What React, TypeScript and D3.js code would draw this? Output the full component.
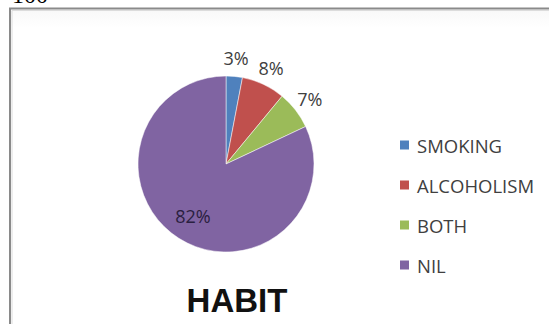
import React from "react";
import * as d3 from "d3";

const categories = ["SMOKING", "ALCOHOLISM", "BOTH", "NIL"];
const values = [3, 8, 7, 82];
const labels = ["3%", "8%", "7%", "82%"];
const colors = ["#4F81BD", "#C0504D", "#9BBB59", "#8064A2"];
const title = "HABIT";
const stray = "100";

export default function App() {
  const W = 549, H = 324;
  const cx = 226, cy = 164, r = 88;
  const pie = d3.pie<number>().sort(null).value((d) => d);
  const arcs = pie(values);
  const arc = d3.arc<d3.PieArcDatum<number>>().innerRadius(0).outerRadius(r);
  const outerLabel = d3.arc<d3.PieArcDatum<number>>().innerRadius(r + 18).outerRadius(r + 18);
  const innerLabel = d3.arc<d3.PieArcDatum<number>>().innerRadius(r * 0.7).outerRadius(r * 0.7);
  const font = "'Open Sans', 'Liberation Sans', sans-serif";
  const legendX = 400, legendY0 = 145, legendStep = 40;
  return (
    <svg width={W} height={H} style={{ position: "absolute", left: 0, top: 0, background: "#fff" }}>
      <defs>
        <linearGradient id="bg" x1="0" y1="0" x2="0" y2="1">
          <stop offset="0" stopColor="#f8f8f8" />
          <stop offset="0.06" stopColor="#ffffff" />
        </linearGradient>
      </defs>
      <text x={12} y={3} fontFamily="'Liberation Serif', serif" fontSize={24} fill="#000">{stray}</text>
      <rect x={10} y={8.5} width={W} height={H} fill="url(#bg)" stroke="#8a8a8a" strokeWidth={2} />
      <line x1={12} y1={10.5} x2={W} y2={10.5} stroke="#dcdcdc" strokeWidth={1} />
      <line x1={12} y1={10.5} x2={12} y2={H} stroke="#dcdcdc" strokeWidth={1} />
      <g transform={`translate(${cx},${cy})`}>
        {arcs.map((a, i) => (
          <path key={i} d={arc(a) || ""} fill={colors[i]} stroke="#fff" strokeWidth={0.5} />
        ))}
        {arcs.map((a, i) => {
          const [x, y] = (i === 3 ? innerLabel : outerLabel).centroid(a);
          return (
            <text key={i} x={x} y={y} textAnchor="middle" dominantBaseline="central"
              fontFamily={font} fontSize={18} fill={i === 3 ? "#2a2040" : "#404040"}>
              {labels[i]}
            </text>
          );
        })}
      </g>
      {categories.map((c, i) => (
        <g key={c} transform={`translate(${legendX},${legendY0 + i * legendStep})`}>
          <rect x={0} y={-4.5} width={9} height={9} fill={colors[i]} />
          <text x={17} y={0} dominantBaseline="central" fontFamily={font} fontSize={18.5} fill="#404040">{c}</text>
        </g>
      ))}
      <text x={237} y={312} textAnchor="middle" fontFamily="'Liberation Sans', Arial, sans-serif"
        fontWeight="bold" fontSize={33} fill="#111">{title}</text>
    </svg>
  );
}
